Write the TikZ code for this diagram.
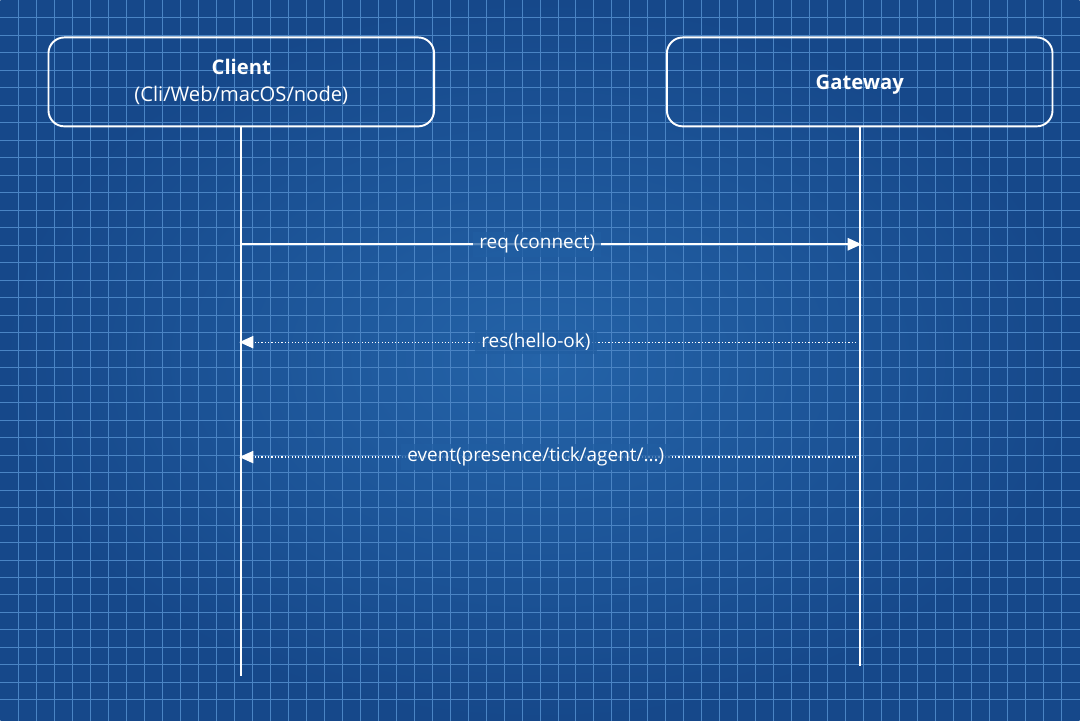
\documentclass[tikz,border=0pt]{standalone}
\usepackage{fontspec}
\setsansfont{Open Sans}
\usepackage{tikz}
\usetikzlibrary{arrows.meta, positioning}
\definecolor{bpdark}{HTML}{16488A}
\definecolor{bplight}{HTML}{2463A8}
\definecolor{bpgrid}{HTML}{4A84C4}

\begin{document}
\begin{tikzpicture}[
  x=0.02cm, y=-0.02cm,
  font=\sffamily\fontsize{11.5}{15}\selectfont,
  actor/.style={rectangle, draw=white, line width=1.1pt, rounded corners=9pt,
                minimum width=7.72cm, minimum height=1.78cm,
                align=center, text=white},
  lifeline/.style={draw=white, line width=1.1pt},
  call/.style={-{Triangle[length=8pt, width=7pt]}, white, line width=1.1pt},
  reply/.style={-{Triangle[length=8pt, width=7pt]}, white, line width=0.7pt,
                dash pattern=on 0.7pt off 1.2pt},
  msg/.style={fill=bplight!80!bpdark, fill opacity=0.75, text opacity=1, text=white,
              font=\sffamily\fontsize{10.8}{13}\selectfont,
              inner xsep=3.5pt, inner ysep=2pt}
]

% background and grid
\shade[inner color=bplight, outer color=bpdark] (0,0) rectangle (1080,721);
\foreach \gx in {18,36,...,1070}
  \draw[bpgrid, line width=0.55pt] (\gx,0) -- (\gx,721);
\foreach \gy in {17.5,35,...,716}
  \draw[bpgrid, line width=0.55pt] (0,\gy) -- (1080,\gy);

% participants
\node[actor] (client) at (241,81.5) {\textbf{Client}\\(Cli/Web/macOS/node)};
\node[actor, text height=11.7pt] (gateway) at (860,81.5) {\textbf{Gateway}};

\coordinate (clientEnd) at (241,676);
\coordinate (gatewayEnd) at (860,666);
\draw[lifeline] (client) -- (clientEnd);
\draw[lifeline] (gateway) -- (gatewayEnd);

% messages
\coordinate (c1) at (241,244);  \coordinate (g1) at (862,244);
\coordinate (c2) at (239,342);  \coordinate (g2) at (860,342);
\coordinate (c3) at (239,457);  \coordinate (g3) at (860,457);

\draw[call] (c1) -- node[msg, pos=0.477] {req (connect)} (g1);
\draw[reply] (g2) -- node[msg, pos=0.522] {res(hello-ok)} (c2);
\draw[reply] (g3) -- node[msg, pos=0.522] {event(presence/tick/agent/...)} (c3);

\end{tikzpicture}
\end{document}
